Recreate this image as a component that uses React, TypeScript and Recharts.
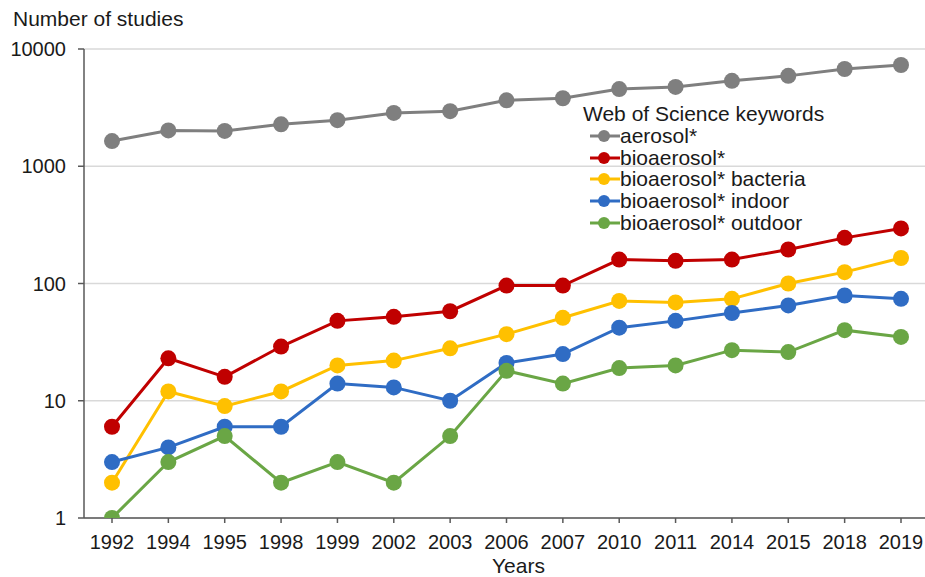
import React from "react"
import { LineChart, Line, XAxis, YAxis, CartesianGrid, Legend, Label } from "recharts"

const years = ["1992", "1994", "1995", "1998", "1999", "2002", "2003", "2006", "2007", "2010", "2011", "2014", "2015", "2018", "2019"]

const aerosol = [1640, 2020, 2000, 2280, 2470, 2850, 2950, 3650, 3800, 4550, 4750, 5350, 5900, 6750, 7300]
const bioaerosol = [6, 23, 16, 29, 48, 52, 58, 96, 96, 160, 156, 160, 195, 245, 295]
const bacteria = [2, 12, 9, 12, 20, 22, 28, 37, 51, 71, 69, 74, 100, 125, 165]
const indoor = [3, 4, 6, 6, 14, 13, 10, 21, 25, 42, 48, 56, 65, 79, 74]
const outdoor = [1, 3, 5, 2, 3, 2, 5, 18, 14, 19, 20, 27, 26, 40, 35]

const yTicks = [1, 10, 100, 1000, 10000]

const seriesDefs = [
  { key: "aerosol", name: "aerosol*", color: "#7f7f7f", values: aerosol },
  { key: "bioaerosol", name: "bioaerosol*", color: "#c00000", values: bioaerosol },
  { key: "bacteria", name: "bioaerosol* bacteria", color: "#ffc000", values: bacteria },
  { key: "indoor", name: "bioaerosol* indoor", color: "#2f6cc4", values: indoor },
  { key: "outdoor", name: "bioaerosol* outdoor", color: "#6aa645", values: outdoor },
]

const data = years.map((year, i) => {
  const row: Record<string, string | number> = { year }
  for (const s of seriesDefs) row[s.key] = s.values[i]
  return row
})

const FONT = "'Liberation Sans', Arial, sans-serif"
const TEXT = "#1a1a1a"

function KeywordLegend() {
  return (
    <div style={{ fontFamily: FONT, fontSize: 21, color: TEXT, lineHeight: "22px", textAlign: "left" }}>
      <div style={{ marginBottom: 0 }}>Web of Science keywords</div>
      {seriesDefs.map((s) => (
        <div key={s.key} style={{ display: "flex", alignItems: "center", height: 21.7 }}>
          <svg width={38} height={22} style={{ marginLeft: 6 }}>
            <line x1={1} y1={11} x2={31} y2={11} stroke={s.color} strokeWidth={3} />
            <circle cx={15} cy={11} r={6} fill={s.color} />
          </svg>
          <span style={{ marginLeft: -7 }}>{s.name}</span>
        </div>
      ))}
    </div>
  )
}

export default function App() {
  return (
    <div style={{ position: "absolute", left: 0, top: 0, width: 925, height: 577, background: "#fff" }}>
      <div
        style={{
          position: "absolute",
          left: 13,
          top: 7,
          fontFamily: FONT,
          fontSize: 21,
          color: TEXT,
          whiteSpace: "nowrap",
        }}
      >
        Number of studies
      </div>
      <LineChart width={925} height={577} data={data} margin={{ top: 49, right: 0, bottom: 0, left: 0 }}>
        <CartesianGrid vertical={false} stroke="#d9d9d9" strokeWidth={1.5} />
        <XAxis
          dataKey="year"
          height={59}
          padding={{ left: 28, right: 24 }}
          tickSize={5}
          tickMargin={12}
          stroke="#595959"
          strokeWidth={1.5}
          tick={{ fontSize: 20, fill: TEXT, fontFamily: FONT }}
          interval={0}
        >
          <Label value="Years" position="insideBottom" offset={4} dx={14} style={{ fontSize: 21, fill: TEXT, fontFamily: FONT }} />
        </XAxis>
        <YAxis
          scale="log"
          domain={[1, 10000]}
          ticks={yTicks}
          allowDataOverflow
          width={84}
          tickSize={6}
          tickMargin={12}
          stroke="#595959"
          strokeWidth={1.5}
          tick={{ fontSize: 20, fill: TEXT, fontFamily: FONT }}
          interval={0}
        />
        <Legend
          layout="horizontal"
          verticalAlign="middle"
          align="center"
          wrapperStyle={{ left: 583, top: 103, width: 320 }}
          content={() => <KeywordLegend />}
        />
        {seriesDefs.map((s) => (
          <Line
            key={s.key}
            dataKey={s.key}
            name={s.name}
            stroke={s.color}
            strokeWidth={3}
            dot={{ r: 8, fill: s.color, stroke: s.color, strokeWidth: 0 }}
            activeDot={false}
            isAnimationActive={false}
          />
        ))}
      </LineChart>
    </div>
  )
}
